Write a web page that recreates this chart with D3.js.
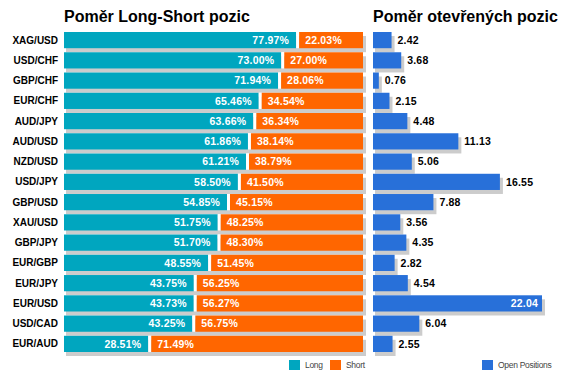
<!DOCTYPE html>
<html lang="cs"><head>
<meta charset="utf-8">
<title>Poměr Long-Short pozic</title>
<script src="https://cdn.jsdelivr.net/npm/d3@7/dist/d3.min.js"></script>
<style>
body { margin: 0; background: #fff; }
text { font-family: "Liberation Sans", Arial, sans-serif; }
</style>
</head>
<body>
<script type="text/javascript">

var width = 572;
var height = 380;

var pairs = ["XAG/USD","USD/CHF","GBP/CHF","EUR/CHF","AUD/JPY","AUD/USD","NZD/USD","USD/JPY",
             "GBP/USD","XAU/USD","GBP/JPY","EUR/GBP","EUR/JPY","EUR/USD","USD/CAD","EUR/AUD"];
var longPct  = [77.97,73.00,71.94,65.46,63.66,61.86,61.21,58.50,54.85,51.75,51.70,48.55,43.75,43.73,43.25,28.51];
var shortPct = [22.03,27.00,28.06,34.54,36.34,38.14,38.79,41.50,45.15,48.25,48.30,51.45,56.25,56.27,56.75,71.49];
var openPos  = [2.42,3.68,0.76,2.15,4.48,11.13,5.06,16.55,7.88,3.56,4.35,2.82,4.54,22.04,6.04,2.55];

var teal = "#00a6bf", orange = "#ff6600", blue = "#2870d9", shadow = "#cccccc";

var svg = d3.select("body").append("svg")
            .attr("width", width)
            .attr("height", height);

var y = d3.scaleBand().domain(pairs).range([32, 352]).paddingInner(0.2).paddingOuter(0);
var xPct = d3.scaleLinear().domain([0, 100]).range([64, 363]);
var xOpen = d3.scaleLinear().domain([0, 22.04]).range([373, 542]);

// titles
svg.append("text").attr("x", 64).attr("y", 22)
    .attr("font-size", 16).attr("font-weight", "bold").text("Poměr Long-Short pozic");
svg.append("text").attr("x", 373).attr("y", 22)
    .attr("font-size", 16).attr("font-weight", "bold").text("Poměr otevřených pozic");

// category labels
svg.append("g").selectAll("text")
    .data(pairs)
    .enter()
    .append("text")
    .attr("x", 58)
    .attr("y", function(d){ return y(d) + y.bandwidth()/2; })
    .attr("dy", "0.35em")
    .attr("text-anchor", "end")
    .attr("font-size", 10)
    .attr("font-weight", "bold")
    .text(function(d){ return d; });

var rows = pairs.map(function(p, i){
    return {pair: p, long: longPct[i], short: shortPct[i], open: openPos[i]};
});

// shadows
var sh = svg.append("g").attr("fill", shadow);
sh.selectAll(".s1").data(rows).enter().append("rect")
    .attr("x", xPct(0) + 2)
    .attr("y", function(d){ return y(d.pair) + 4; })
    .attr("width", xPct(100) - xPct(0) + 1)
    .attr("height", y.bandwidth());
sh.selectAll(".s2").data(rows).enter().append("rect")
    .attr("x", xOpen(0) + 2)
    .attr("y", function(d){ return y(d.pair) + 4; })
    .attr("width", function(d){ return xOpen(d.open) - xOpen(0) + 1; })
    .attr("height", y.bandwidth());

// long bars
svg.append("g").selectAll("rect").data(rows).enter().append("rect")
    .attr("x", xPct(0))
    .attr("y", function(d){ return y(d.pair); })
    .attr("width", function(d){ return xPct(d.long) - xPct(0) - 1; })
    .attr("height", y.bandwidth())
    .attr("fill", teal);

// gap between long and short shows white
svg.append("g").selectAll("rect").data(rows).enter().append("rect")
    .attr("x", function(d){ return xPct(d.long) - 1; })
    .attr("y", function(d){ return y(d.pair); })
    .attr("width", 3)
    .attr("height", y.bandwidth())
    .attr("fill", "#fff");

// short bars
svg.append("g").selectAll("rect").data(rows).enter().append("rect")
    .attr("x", function(d){ return xPct(d.long) + 2; })
    .attr("y", function(d){ return y(d.pair); })
    .attr("width", function(d){ return xPct(100) - xPct(d.long) - 2; })
    .attr("height", y.bandwidth())
    .attr("fill", orange);

// open position bars
svg.append("g").selectAll("rect").data(rows).enter().append("rect")
    .attr("x", xOpen(0))
    .attr("y", function(d){ return y(d.pair); })
    .attr("width", function(d){ return xOpen(d.open) - xOpen(0); })
    .attr("height", y.bandwidth())
    .attr("fill", blue);

// value labels
var lab = svg.append("g").attr("font-size", 10.5).attr("font-weight", "bold").attr("letter-spacing", 0.2);
lab.selectAll(".l").data(rows).enter().append("text")
    .attr("x", function(d){ return xPct(d.long) - 8; })
    .attr("y", function(d){ return y(d.pair) + y.bandwidth()/2; })
    .attr("dy", "0.35em")
    .attr("text-anchor", "end")
    .attr("fill", "#fff")
    .text(function(d){ return d.long.toFixed(2) + "%"; });
lab.selectAll(".s").data(rows).enter().append("text")
    .attr("x", function(d){ return xPct(d.long) + 8; })
    .attr("y", function(d){ return y(d.pair) + y.bandwidth()/2; })
    .attr("dy", "0.35em")
    .attr("fill", "#fff")
    .text(function(d){ return d.short.toFixed(2) + "%"; });
lab.selectAll(".o").data(rows).enter().append("text")
    .attr("x", function(d){ return d.open > 20 ? xOpen(d.open) - 4 : xOpen(d.open) + 6; })
    .attr("y", function(d){ return y(d.pair) + y.bandwidth()/2; })
    .attr("dy", "0.35em")
    .attr("text-anchor", function(d){ return d.open > 20 ? "end" : "start"; })
    .attr("fill", function(d){ return d.open > 20 ? "#fff" : "#000"; })
    .text(function(d){ return d.open.toFixed(2); });

// legend
var legendItems = [
    {name: "Long", color: teal, x: 289},
    {name: "Short", color: orange, x: 330},
    {name: "Open Positions", color: blue, x: 482}
];
var lg = svg.append("g").selectAll("g").data(legendItems).enter().append("g")
    .attr("transform", function(d){ return "translate(" + d.x + ",360)"; });
lg.append("rect").attr("width", 11).attr("height", 10).attr("fill", function(d){ return d.color; });
lg.append("text").attr("x", 16).attr("y", 5).attr("dy", "0.35em")
    .attr("font-size", 8.5).attr("fill", "#444").attr("letter-spacing", -0.3)
    .text(function(d){ return d.name; });

</script>
</body></html>
